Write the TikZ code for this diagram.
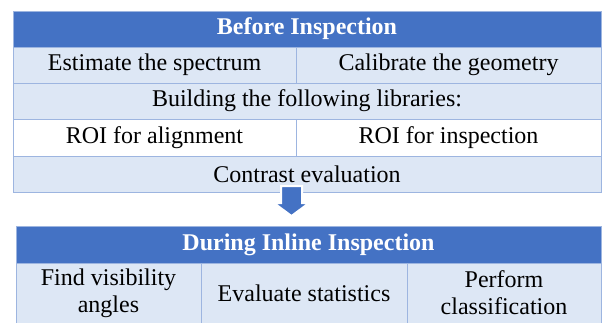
\documentclass[tikz,border=0pt]{standalone}
\usepackage{fontspec}
\setmainfont{Liberation Serif}
\usepackage{xcolor}
\usetikzlibrary{calc}
\definecolor{HeadBlue}{HTML}{4472C4}
\definecolor{CellBlue}{HTML}{DDE7F5}
\definecolor{RuleBlue}{HTML}{9DB5E0}

\begin{document}
\begin{tikzpicture}[x=1pt,y=-1pt,
    cell/.style={draw=RuleBlue,line width=1pt,fill=CellBlue,inner sep=0pt,
      font=\fontsize{24}{27}\selectfont,align=center},
    head/.style={cell,fill=HeadBlue,text=white,font=\fontsize{24}{27}\selectfont\bfseries},
    plain/.style={cell,fill=white}]
  \useasboundingbox (0,0) rectangle (602,322);
  % before inspection
  \node[head,minimum width=588pt,minimum height=36pt] (before) at (307,29) {Before Inspection};
  \node[cell,minimum width=283pt,minimum height=36pt] (spectrum) at (154.5,65) {Estimate the spectrum};
  \node[cell,minimum width=305pt,minimum height=36pt] (geometry) at (448.5,65) {Calibrate the geometry};
  \node[cell,minimum width=588pt,minimum height=36pt] (libs) at (307,101) {Building the following libraries:};
  \node[plain,minimum width=283pt,minimum height=37pt] (roialign) at (154.5,137.5) {ROI for alignment};
  \node[plain,minimum width=305pt,minimum height=37pt] (roiinsp) at (448.5,137.5) {ROI for inspection};
  \node[cell,minimum width=588pt,minimum height=36pt] (contrast) at (307,174) {Contrast evaluation};
  % during inline inspection
  \node[head,minimum width=585pt,minimum height=37pt] (during) at (308.5,244.5) {During Inline Inspection};
  \node[cell,minimum width=185pt,minimum height=60pt] (angles) at (108.5,293) {Find visibility\\angles};
  \node[cell,minimum width=206pt,minimum height=60pt] (stats) at (304,293) {Evaluate statistics};
  \node[cell,minimum width=194pt,minimum height=60pt] (classify) at (504,293) {Perform\\classification};
  % block arrow
  \coordinate (top) at (291.5,186);
  \coordinate (tip) at (291.5,216);
  \fill[HeadBlue,draw=white,line width=2pt]
    ($(top)+(-10.5,0)$) -- ($(top)+(10.5,0)$) -- ($(top)+(10.5,17)$) -- ($(top)+(17.5,17)$)
    -- (tip) -- ($(top)+(-17.5,17)$) -- ($(top)+(-10.5,17)$) -- cycle;
\end{tikzpicture}
\end{document}
